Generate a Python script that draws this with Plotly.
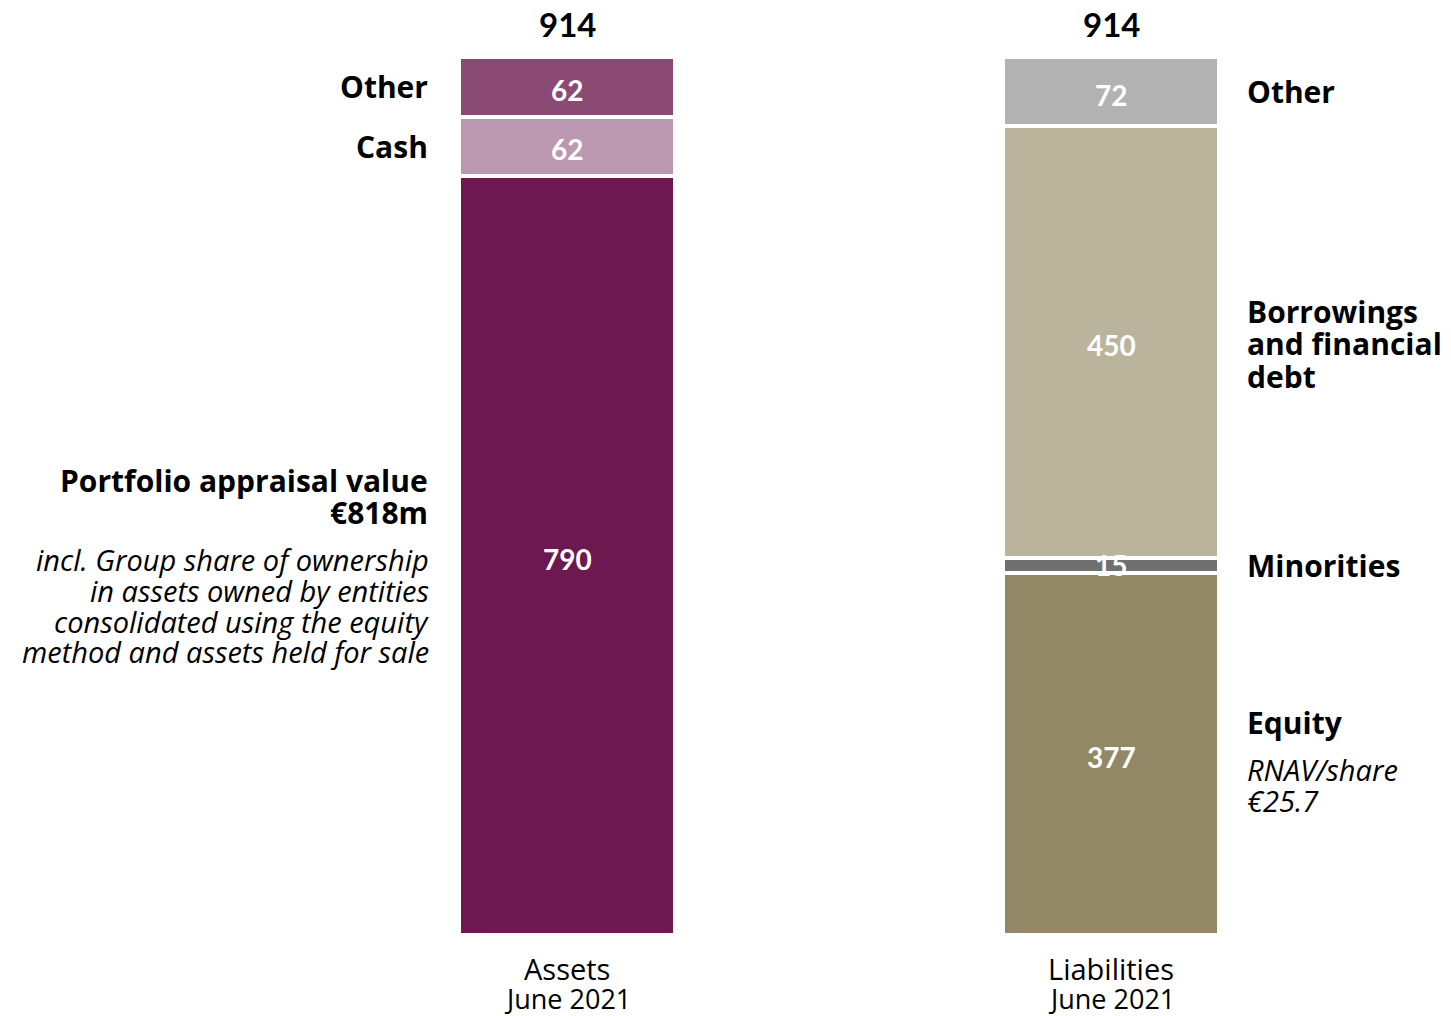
import plotly.graph_objects as go

# ---- data ----
bar_titles = ["Assets", "Liabilities"]
period = "June 2021"
totals = [914, 914]

asset_names = ["Portfolio", "Cash", "Other"]
asset_values = [790, 62, 62]
asset_colors = ["#6D1851", "#BC98B0", "#8B4A74"]

liab_names = ["Equity", "Minorities", "Borrowings", "Other"]
liab_values = [377, 15, 450, 72]
liab_colors = ["#928865", "#707070", "#BBB49C", "#B2B2B2"]

VFONT = "Lato"
LFONT = "Open Sans"
fig = go.Figure()
ann = []

def label(x, y, text, anchor, size=30, bold=True, italic=False, yshift=0,
          family=LFONT, color="black", yref="y"):
    t = text
    if italic:
        t = "<i>" + t + "</i>"
    ann.append(dict(x=x, y=y, xref="x", yref=yref, text=t, showarrow=False,
                    xanchor=anchor, yanchor="middle", yshift=yshift, borderpad=0,
                    font=dict(family=family, size=size, color=color,
                              weight="bold" if bold else "normal")))

def add_stack(xpos, names, values, colors):
    base = 0
    mids = []
    for n, v, c in zip(names, values, colors):
        fig.add_trace(go.Bar(
            x=[xpos], y=[v], base=[base], name=n, width=0.397,
            marker=dict(color=c, line=dict(color="white", width=4)),
            showlegend=False, hoverinfo="skip"))
        mids.append(base + v / 2)
        base += v
    return mids

amid = add_stack(0, asset_names, asset_values, asset_colors)
lmid = add_stack(1, liab_names, liab_values, liab_colors)

# values inside bars
for xpos, mids, vals in [(0, amid, asset_values), (1, lmid, liab_values)]:
    for m, v in zip(mids, vals):
        label(xpos, m, str(v), "center", size=28, family=VFONT, color="white",
              yshift=-3 if v > 30 else 1)

LX = -0.2537
RX = 1.248
# left side
label(LX, amid[2], "Other", "right")
label(LX, amid[1], "Cash", "right")
label(LX, amid[0], "Portfolio appraisal value", "right", yshift=75)
label(LX, amid[0], "€818m", "right", yshift=43)
for txt, sh in [("incl. Group share of ownership", -4),
                ("in assets owned by entities", -35),
                ("consolidated using the equity", -66),
                ("method and assets held for sale", -96)]:
    label(LX + 0.002, amid[0], txt, "right", size=29, bold=False, italic=True, yshift=sh)
# right side
label(RX, lmid[3], "Other", "left")
for txt, sh in [("Borrowings", 31), ("and financial", -1), ("debt", -34)]:
    label(RX, lmid[2], txt, "left", yshift=sh)
label(RX, lmid[1], "Minorities", "left")
label(RX, lmid[0], "Equity", "left", yshift=31)
label(RX, lmid[0], "RNAV/share", "left", size=29, bold=False, italic=True, yshift=-16)
label(RX, lmid[0], "€25.7", "left", size=29, bold=False, italic=True, yshift=-47)

# totals and category labels
for i, tot in enumerate(totals):
    label(i, tot, str(tot), "center", size=33, yshift=33, family=VFONT)
    label(i, 0, bar_titles[i], "center", size=29, bold=False, yshift=-35, yref="paper")
    label(i, 0, period, "center", size=27, bold=False, yshift=-65, yref="paper")

fig.update_layout(
    annotations=ann,
    barmode="stack",
    width=1451, height=1016,
    margin=dict(l=0, r=0, t=0, b=83),
    plot_bgcolor="white", paper_bgcolor="white",
    xaxis=dict(range=[-1.0423, 1.625], visible=False),
    yaxis=dict(range=[2.08, 973.3], visible=False),
)
fig.write_html("out.html", config={"displayModeBar": False},
               post_script="document.body.style.margin='0';document.body.style.overflow='hidden';")
